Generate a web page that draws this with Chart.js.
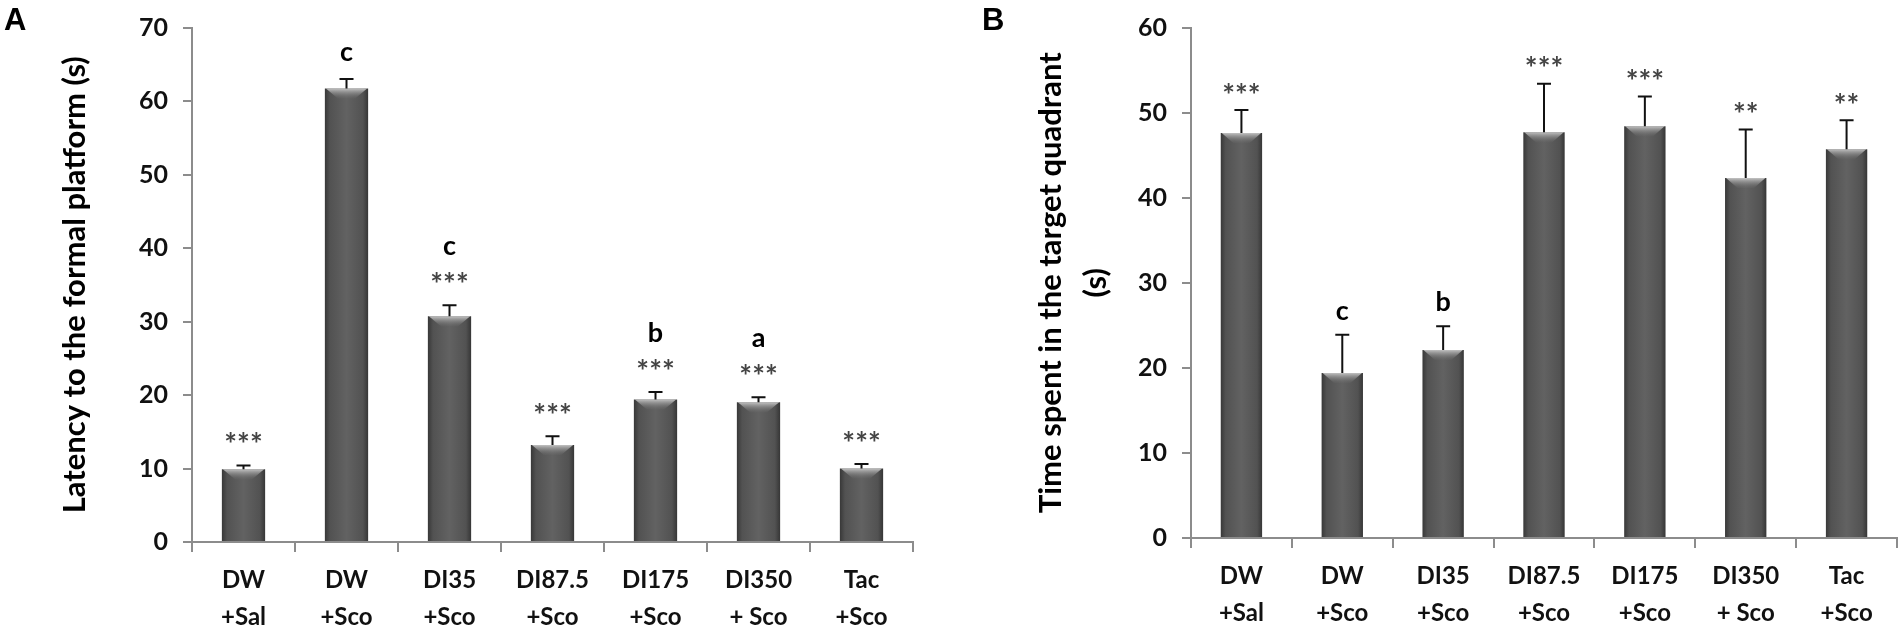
<!DOCTYPE html>
<html>
<head>
<meta charset="utf-8">
<script src="https://cdn.jsdelivr.net/npm/chart.js@4.4.1/dist/chart.umd.min.js"></script>
<style>
  html, body { margin: 0; padding: 0; background: #fff; }
  body { width: 1900px; height: 630px; position: relative; overflow: hidden; }
  .panel { position: absolute; top: 0; height: 630px; }
  #panelA { left: 0; width: 930px; }
  #panelB { left: 930px; width: 970px; }
  .tag { position: absolute; top: 2px; font: bold 31px "Liberation Sans", Arial, sans-serif; color: #000; }
</style>
</head>
<body>
<div class="panel" id="panelA"><canvas id="chartA"></canvas></div>
<div class="panel" id="panelB"><canvas id="chartB"></canvas></div>
<div class="tag" style="left:4px">A</div>
<div class="tag" style="left:982px">B</div>
<script>
// groups (same for both panels)
const groups = [['DW', '+Sal'], ['DW', '+Sco'], ['DI35', '+Sco'], ['DI87.5', '+Sco'], ['DI175', '+Sco'], ['DI350', '+ Sco'], ['Tac', '+Sco']];

// panel A : latency
const latencyTitle = 'Latency to the formal platform (s)';
const latencyMeans = [9.9, 61.7, 30.7, 13.2, 19.4, 19.0, 10.0];
const latencyErrors = [0.5, 1.3, 1.5, 1.2, 1.0, 0.7, 0.6];
const latencyStars = ['***', '', '***', '***', '***', '***', '***'];
const latencyLetters = ['', 'c', 'c', '', 'b', 'a', ''];
const latencyTicks = [0, 10, 20, 30, 40, 50, 60, 70];

// panel B : time in target quadrant
const quadrantTitle = ['Time spent in the target quadrant', '(s)'];
const quadrantMeans = [47.6, 19.4, 22.1, 47.7, 48.4, 42.3, 45.7];
const quadrantErrors = [2.7, 4.5, 2.8, 5.7, 3.5, 5.7, 3.4];
const quadrantStars = ['***', '', '', '***', '***', '**', '**'];
const quadrantLetters = ['', 'c', 'b', '', '', '', ''];
const quadrantTicks = [0, 10, 20, 30, 40, 50, 60];

Chart.defaults.font.family = 'Lato, "Open Sans", sans-serif';
const axisGrey = '#8c8c8c';

// shaded bar body, darker on both sides
function barFill(context) {
  const chart = context.chart;
  const xs = chart.scales.x;
  if (!chart.chartArea || !xs) return '#5a5a5a';
  const cx = xs.getPixelForValue(context.dataIndex);
  const half = xs.width / groups.length * context.dataset.barPercentage / 2;
  const g = chart.ctx.createLinearGradient(cx - half, 0, cx + half, 0);
  g.addColorStop(0, '#383838');
  g.addColorStop(0.12, '#525252');
  g.addColorStop(0.5, '#626262');
  g.addColorStop(0.88, '#525252');
  g.addColorStop(1, '#363636');
  return g;
}

// bevel on top of bars, error bars, significance marks
function marksPlugin(errors, stars, letters, gaps) {
  return {
    id: 'marks',
    afterDatasetsDraw(chart) {
      const ctx = chart.ctx;
      const ys = chart.scales.y;
      const means = chart.data.datasets[0].data;
      const bars = chart.getDatasetMeta(0).data;
      ctx.save();
      bars.forEach((bar, i) => {
        const left = bar.x - bar.width / 2;
        const right = bar.x + bar.width / 2;
        const bh = 10;
        const g = ctx.createLinearGradient(0, bar.y, 0, bar.y + bh);
        g.addColorStop(0, 'rgba(200,200,200,0.95)');
        g.addColorStop(1, 'rgba(110,110,110,0.15)');
        ctx.fillStyle = g;
        ctx.beginPath();
        ctx.moveTo(left + 1, bar.y);
        ctx.lineTo(right - 1, bar.y);
        ctx.lineTo(bar.x + bar.width * 0.2, bar.y + bh);
        ctx.lineTo(bar.x - bar.width * 0.2, bar.y + bh);
        ctx.closePath();
        ctx.fill();

        const top = ys.getPixelForValue(means[i] + errors[i]);
        ctx.strokeStyle = '#111';
        ctx.lineWidth = 2;
        ctx.beginPath();
        ctx.moveTo(bar.x, bar.y);
        ctx.lineTo(bar.x, top);
        ctx.moveTo(bar.x - 7, top);
        ctx.lineTo(bar.x + 7, top);
        ctx.stroke();

        ctx.textAlign = 'center';
        ctx.textBaseline = 'alphabetic';
        let starCenter = null;
        if (stars[i]) {
          ctx.font = 'bold 30px Lato, sans-serif';
          ctx.fillStyle = '#444';
          const m = ctx.measureText(stars[i]);
          starCenter = top - gaps.star;
          ctx.fillText(stars[i], bar.x, starCenter + (m.actualBoundingBoxAscent - m.actualBoundingBoxDescent) / 2);
        }
        if (letters[i]) {
          ctx.font = 'bold 27px Lato, sans-serif';
          ctx.fillStyle = '#000';
          const base = starCenter !== null ? starCenter - gaps.letterOverStar : top - gaps.letter;
          ctx.fillText(letters[i], bar.x, base);
        }
      });
      ctx.restore();
    }
  };
}

function makeChart(id, means, ticksList, title, titleLine, titlePad, yWidth, xHeight, padRight, barPct, plugin) {
  return new Chart(document.getElementById(id), {
    type: 'bar',
    data: {
      labels: groups,
      datasets: [{
        data: means,
        backgroundColor: barFill,
        borderWidth: 0,
        categoryPercentage: 1,
        barPercentage: barPct
      }]
    },
    options: {
      responsive: true,
      maintainAspectRatio: false,
      animation: false,
      layout: { padding: { top: 12, right: padRight, left: 0, bottom: 0 } },
      plugins: { legend: { display: false }, tooltip: { enabled: false } },
      scales: {
        x: {
          ticks: { padding: 10, color: '#111', maxRotation: 0, autoSkip: false,
                   font: { size: 24, weight: 'bold', lineHeight: 1.54 } },
          grid: { display: true, offset: true, drawOnChartArea: false, drawTicks: true,
                  tickLength: 10, color: axisGrey, lineWidth: 2 },
          border: { display: true, color: axisGrey, width: 2 },
          afterFit: s => { s.height = xHeight; }
        },
        y: {
          min: ticksList[0],
          max: ticksList[ticksList.length - 1],
          afterBuildTicks: s => { s.ticks = ticksList.map(v => ({ value: v })); },
          ticks: { padding: 15, color: '#111', font: { size: 25, weight: 'bold', lineHeight: 1 } },
          grid: { display: true, drawOnChartArea: false, drawTicks: true,
                  tickLength: 9, color: axisGrey, lineWidth: 2 },
          border: { display: true, color: axisGrey, width: 2 },
          title: { display: true, text: title, color: '#000',
                   font: { size: 31, weight: 'bold', lineHeight: titleLine },
                   padding: { top: titlePad, bottom: 0 } },
          afterFit: s => { s.width = yWidth; }
        }
      }
    },
    plugins: [plugin]
  });
}

makeChart('chartA', latencyMeans, latencyTicks, latencyTitle, 1.2, 56, 192, 88, 17, 0.42,
  marksPlugin(latencyErrors, latencyStars, latencyLetters, { star: 28, letterOverStar: 22, letter: 18 }));

makeChart('chartB', quadrantMeans, quadrantTicks, quadrantTitle, 1.45, 99, 261, 92, 3, 0.41,
  marksPlugin(quadrantErrors, quadrantStars, quadrantLetters, { star: 22, letterOverStar: 22, letter: 15 }));
</script>
</body>
</html>
